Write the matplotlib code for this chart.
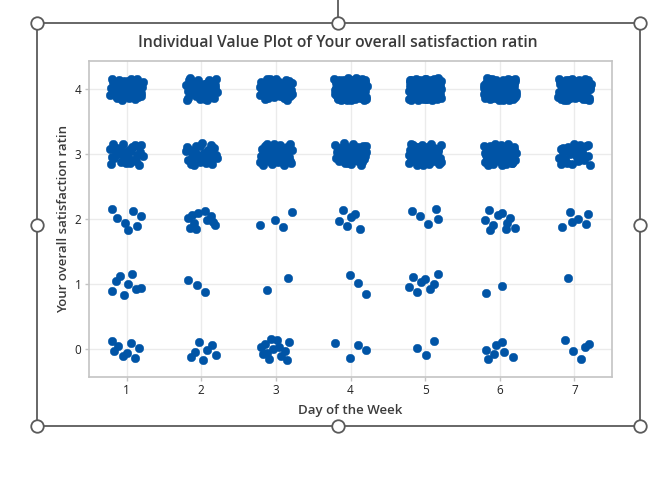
import numpy as np
import matplotlib
matplotlib.use("Agg")
import matplotlib.pyplot as plt
from matplotlib.lines import Line2D

plt.rcParams['font.family'] = ['Open Sans', 'DejaVu Sans']

# ---- data: number of respondents giving each rating, per day ----
days = [1, 2, 3, 4, 5, 6, 7]
ratings = [0, 1, 2, 3, 4]
count_r0 = [8, 7, 13, 4, 3, 7, 5]
count_r1 = [8, 3, 2, 3, 8, 2, 1]
count_r2 = [7, 11, 4, 6, 5, 10, 6]
count_r3 = [30, 28, 35, 35, 45, 40, 25]
count_r4 = [40, 40, 40, 90, 90, 75, 70]
counts = [count_r0, count_r1, count_r2, count_r3, count_r4]

title = "Individual Value Plot of Your overall satisfaction ratin"
xlabel = "Day of the Week"
ylabel = "Your overall satisfaction ratin"

# deterministic (Halton) jitter, like Minitab's jittered display
def halton(i, b):
    f, r = 1.0, 0.0
    while i > 0:
        f /= b
        r += f * (i % b)
        i //= b
    return r

xs, ys = [], []
k = 1
for ri, r in enumerate(ratings):
    for di, d in enumerate(days):
        for n in range(counts[ri][di]):
            jx = (halton(k, 2) - 0.5) * 0.44
            jy = (halton(k, 3) - 0.5) * 0.34
            xs.append(d + jx)
            ys.append(r + jy)
            k += 1

fig = plt.figure(figsize=(6.5, 4.8), dpi=100)
ax = fig.add_axes([89/650, 1-376.7/480, (611.7-89)/650, (376.7-61)/480])

ax.scatter(xs, ys, s=38, color='#0054A6', edgecolors='#0054A6', linewidths=0.3, zorder=3)

ax.set_xlim(0.495, 7.5)
ax.set_ylim(-0.42, 4.435)
ax.set_xticks(days)
ax.set_yticks(ratings)
ax.grid(True, color='#ebebeb', linewidth=1.0, zorder=0)
ax.set_axisbelow(True)
for s in ax.spines.values():
    s.set_color('#c4c4c4')
    s.set_linewidth(1.2)
ax.tick_params(axis='both', colors='#c4c4c4', labelcolor='#222222', labelsize=8.5, length=3, width=1, pad=2.5)

ax.set_xlabel(xlabel, fontsize=9.5, color='#3c3c3c', fontweight='semibold', labelpad=5)
ax.set_ylabel(ylabel, fontsize=9.5, color='#3c3c3c', fontweight='semibold', labelpad=3)
fig.text(338/650, 1-43/480, title, ha='center', va='center', fontsize=11.3,
         color='#3a3a3a', fontweight='semibold')

# selection frame with handles
L, R, T, B, M = 36.7/650, 640/650, 1-23.3/480, 1-426/480, 338.3/650
fc = '#5a5a5a'
fig.add_artist(Line2D([L, R, R, L, L], [T, T, B, B, T], color=fc, lw=1.3, transform=fig.transFigure))
fig.add_artist(Line2D([M, M], [1.0, T], color=fc, lw=1.3, transform=fig.transFigure))
hx = [L, M, R, L, R, L, M, R]
hy = [T, T, T, (T+B)/2, (T+B)/2, B, B, B]
fig.add_artist(Line2D(hx, hy, ls='none', marker='o', ms=9, mfc='white', mec=fc, mew=1.3,
                      transform=fig.transFigure))

fig.savefig("out.png", dpi=100)
